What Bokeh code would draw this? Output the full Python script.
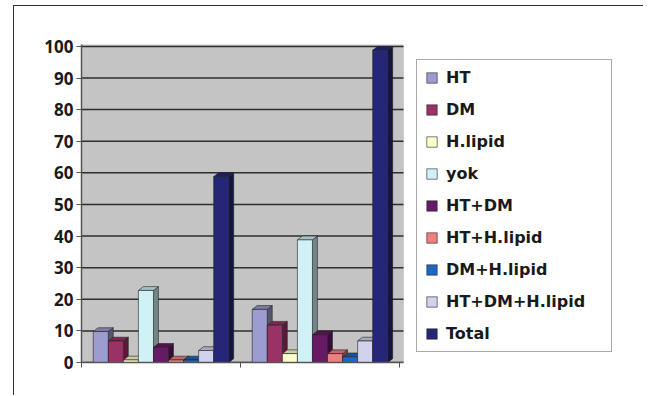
from bokeh.plotting import figure
from bokeh.models import Legend, LegendItem, FixedTicker, Range1d, BoxAnnotation
from bokeh.embed import file_html
from bokeh.resources import INLINE

# ---- data ----
groups = ["1", "2"]
series = ["HT", "DM", "H.lipid", "yok", "HT+DM", "HT+H.lipid",
          "DM+H.lipid", "HT+DM+H.lipid", "Total"]
group1 = [11, 8, 2, 24, 6, 2, 2, 5, 60]
group2 = [18, 13, 4, 40, 10, 4, 3, 8, 100]
y_ticks = [0, 10, 20, 30, 40, 50, 60, 70, 80, 90, 100]

colors = ["#9c9cd0", "#993366", "#ffffcc", "#d0f2f7", "#661a66",
          "#f08080", "#1f66c0", "#d2d2ee", "#262678"]

values = [group1, group2]


def shade(hexcol, f):
    h = hexcol.lstrip("#")
    r, g, b = (int(h[i:i + 2], 16) for i in (0, 2, 4))
    return "#%02x%02x%02x" % (int(r * f), int(g * f), int(b * f))


x_chart_end = 2.025   # plotting area (gray wall) extent, in category units
y_top = 100.6

p = figure(width=630, height=390, output_backend="svg", toolbar_location=None,
           x_range=Range1d(0, 3.39), y_range=Range1d(0, y_top),
           min_border_left=67, min_border_right=24, min_border_top=38,
           min_border_bottom=34)
p.styles = {"border-top": "1.5px solid #333", "border-left": "1.5px solid #333",
            "margin-left": "13px", "margin-top": "5px"}

p.background_fill_color = "white"
p.border_fill_color = "white"
p.outline_line_color = None
p.xgrid.grid_line_color = None
p.ygrid.grid_line_color = None

# gray back wall
p.add_layout(BoxAnnotation(left=0, right=x_chart_end, bottom=0, top=y_top,
                           fill_color="#c4c4c4", fill_alpha=1,
                           line_color="#9a9a9a", line_width=1, level="underlay"))
# horizontal gridlines on the wall
p.segment(x0=[0] * len(y_ticks), x1=[x_chart_end] * len(y_ticks),
          y0=y_ticks, y1=y_ticks, line_color="#2e2e2e", line_width=1.5)

p.yaxis.ticker = FixedTicker(ticks=y_ticks)
p.yaxis.major_label_text_font = "Open Sans"
p.yaxis.major_label_text_font_style = "bold"
p.yaxis.major_label_text_font_size = "17px"
p.yaxis.major_label_text_color = "#1a1a1a"
p.yaxis.major_label_standoff = 3
p.yaxis.major_tick_out = 5
p.yaxis.major_tick_in = 0
p.yaxis.minor_tick_line_color = None
p.yaxis.axis_line_color = "#555555"
p.yaxis.major_tick_line_color = "#555555"
p.yaxis.axis_line_width = 1.5

p.xaxis.ticker = FixedTicker(ticks=[0, 1, 2])
p.xaxis.bounds = (0, x_chart_end)
p.xaxis.major_label_overrides = {0: "", 1: "", 2: ""}
p.xaxis.major_tick_out = 5
p.xaxis.major_tick_in = 0
p.xaxis.minor_tick_line_color = None
p.xaxis.axis_line_color = "#555555"
p.xaxis.major_tick_line_color = "#555555"
p.xaxis.axis_line_width = 1.5

w = 0.0947   # bar width in data units
dx = 0.031   # 3D depth (x)
dy = 1.2     # 3D depth (y)

items = []
for j, name in enumerate(series):
    lefts, rights, tops = [], [], []
    top_xs, top_ys, side_xs, side_ys = [], [], [], []
    for g in range(len(groups)):
        v = values[g][j]
        xc = g + 0.5 + (j - 4) * w
        l, r = xc - w / 2, xc + w / 2
        ft = v - dy
        lefts.append(l); rights.append(r); tops.append(ft)
        top_xs.append([l, l + dx, r + dx, r])
        top_ys.append([ft, v, v, ft])
        side_xs.append([r, r + dx, r + dx, r])
        side_ys.append([0, dy, v, ft])
    p.patches(side_xs, side_ys, fill_color=shade(colors[j], 0.55),
              line_color="#222222", line_width=0.6)
    p.patches(top_xs, top_ys, fill_color=shade(colors[j], 0.8),
              line_color="#222222", line_width=0.6)
    rq = p.quad(left=lefts, right=rights, bottom=[0, 0], top=tops,
                fill_color=colors[j], line_color="#222222", line_width=0.6)
    items.append(LegendItem(label=name, renderers=[rq]))

legend = Legend(items=items, location=(335, 10), margin=0, padding=8,
                spacing=13, label_height=19, glyph_height=13, glyph_width=13,
                label_standoff=8, label_width=157,
                label_text_font="DejaVu Sans", label_text_font_style="bold",
                label_text_font_size="16px", label_text_color="#1a1a1a",
                border_line_color="#555555", border_line_width=1.5,
                background_fill_color="white", background_fill_alpha=1)
p.add_layout(legend, "center")

open("out.html", "w").write(file_html(p, INLINE))
